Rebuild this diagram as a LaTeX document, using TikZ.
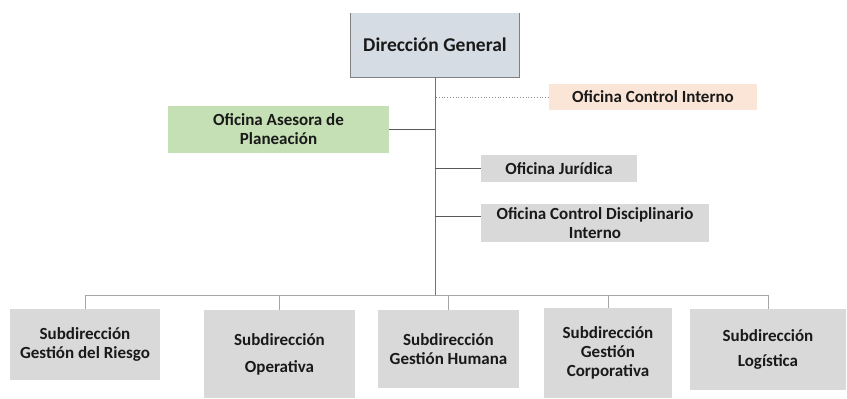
\documentclass[tikz,border=0pt]{standalone}
\usepackage{fontspec}
\setmainfont{Carlito}
\usetikzlibrary{positioning}
\definecolor{dgblue}{HTML}{D6DCE4}
\definecolor{ocipeach}{HTML}{FBE5D6}
\definecolor{oapgreen}{HTML}{C5E0B4}
\definecolor{unitgray}{HTML}{D9D9D9}
\definecolor{linegray}{HTML}{A6A6A6}

\begin{document}
\begin{tikzpicture}[x=1pt,y=-1pt,
  unit/.style={fill=unitgray, text=black!90, inner sep=0pt, align=center,
    font=\bfseries\fontsize{17}{19}\selectfont},
  trunk/.style={draw=black!55, line width=0.8pt}]

\useasboundingbox (0,0) rectangle (847,399);

    \node[unit, fill=dgblue, minimum width=168pt, minimum height=64pt,
      font=\bfseries\fontsize{19.5}{22}\selectfont] (DG) at (435,45) {Dirección General};
    \draw[black!50, line width=1pt] (DG.north west) -- (DG.south west) -- (DG.south east) -- (DG.north east);

    \node[unit, fill=ocipeach, minimum width=208pt, minimum height=26pt] (OCI) at (653,97) {Oficina Control Interno};
    \node[unit, fill=oapgreen, minimum width=221pt, minimum height=47pt] (OAP) at (278.5,129.5) {Oficina Asesora de\\Planeación};
    \node[unit, minimum width=156pt, minimum height=27pt] (OJ) at (559,168.5) {Oficina Jurídica};
    \node[unit, minimum width=228pt, minimum height=38pt] (OCD) at (595,223) {Oficina Control Disciplinario\\Interno};

    % subdirecciones
    \node[unit, minimum width=150pt, minimum height=71pt] (S1) at (85,344.5) {Subdirección\\Gestión del Riesgo};
    \node[unit, minimum width=151pt, minimum height=88pt] (S2) at (279.5,354) {Subdirección\\[8pt]Operativa};
    \node[unit, minimum width=141pt, minimum height=78pt] (S3) at (448.5,349) {Subdirección\\Gestión Humana};
    \node[unit, minimum width=128pt, minimum height=90pt] (S4) at (608,353) {Subdirección\\Gestión\\Corporativa};
    \node[unit, minimum width=156pt, minimum height=81pt] (S5) at (768,349.5) {Subdirección\\[6pt]Logística};

    \coordinate (B) at (435,295);

    \tikzset{branch/.style={draw=black!65, line width=0.7pt}}
    \path[trunk] (DG.south) edge (B);
    \path[draw=black!45, dotted, line width=0.8pt] (OCI.west) edge (OCI.west -| DG.south);
    \path[branch] (OAP.east) edge (OAP.east -| DG.south);
    \path[branch] (OJ.west) edge (OJ.west -| DG.south);
    \path[branch] ([yshift=7pt]OCD.west) edge ([yshift=7pt]OCD.west -| DG.south);

    \draw[linegray, line width=0.9pt] (S1.north) -- (S1.north |- B) -- (S5.north |- B) -- (S5.north);
    \foreach \s in {S2,S3,S4}
      \draw[linegray, line width=0.9pt] (\s.north |- B) -- (\s.north);

\end{tikzpicture}
\end{document}
